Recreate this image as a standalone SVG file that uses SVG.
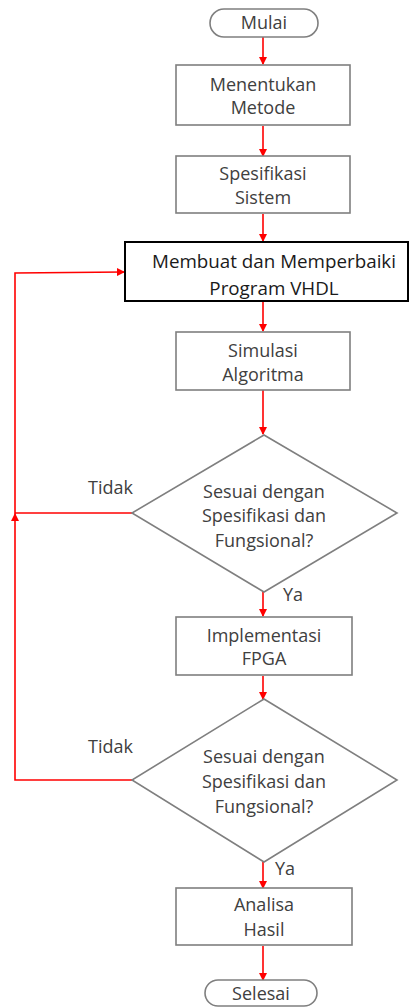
<svg xmlns="http://www.w3.org/2000/svg" width="410" height="1008" viewBox="0 0 410 1008">
<defs>
<marker id="ah" markerWidth="8" markerHeight="8" refX="7" refY="4" orient="auto" markerUnits="userSpaceOnUse">
<path d="M0,0 L8,4 L0,8 z" fill="#ff0000"/>
</marker>
<style>
.box{fill:#fff;stroke:#7f7f7f;stroke-width:1.6}
.bold{fill:#fff;stroke:#000;stroke-width:2}
.t{font-family:"Open Sans","Liberation Sans",sans-serif;font-size:18px;fill:#404040;text-anchor:middle}
.tb{font-family:"Open Sans","Liberation Sans",sans-serif;font-size:18.8px;fill:#1a1a1a;text-anchor:middle}
.l{font-family:"Open Sans","Liberation Sans",sans-serif;font-size:18px;fill:#404040}
.c{fill:none;stroke:#ff0000;stroke-width:1.6}
</style>
</defs>
<rect width="410" height="1008" fill="#fff"/>
<g id="connectors">
<line class="c" x1="263" y1="37" x2="263" y2="64" marker-end="url(#ah)"/>
<line class="c" x1="263" y1="126" x2="263" y2="156" marker-end="url(#ah)"/>
<line class="c" x1="263" y1="214" x2="263" y2="241" marker-end="url(#ah)"/>
<line class="c" x1="263" y1="302" x2="263" y2="331" marker-end="url(#ah)"/>
<line class="c" x1="263" y1="390" x2="263" y2="434" marker-end="url(#ah)"/>
<line class="c" x1="263" y1="592" x2="263" y2="616" marker-end="url(#ah)"/>
<line class="c" x1="263" y1="676" x2="263" y2="699" marker-end="url(#ah)"/>
<line class="c" x1="263" y1="862" x2="263" y2="888" marker-end="url(#ah)"/>
<line class="c" x1="263" y1="946" x2="263" y2="980" marker-end="url(#ah)"/>
<polyline class="c" points="132,513 15,513"/>
<polyline class="c" points="132,780 15,780 15,514" marker-end="url(#ah)"/>
<polyline class="c" points="15,514 15,273 124,272" marker-end="url(#ah)"/>
</g>
<g id="mulai">
<rect class="box" x="210" y="9" width="108" height="28" rx="14"/>
<text class="t" x="264" y="29">Mulai</text>
</g>
<g id="metode">
<rect class="box" x="176" y="65" width="174" height="60"/>
<text class="t" x="263" y="91">Menentukan</text>
<text class="t" x="263" y="114">Metode</text>
</g>
<g id="spesifikasi">
<rect class="box" x="176" y="156" width="174" height="57"/>
<text class="t" x="263" y="180">Spesifikasi</text>
<text class="t" x="263" y="204">Sistem</text>
</g>
<g id="program">
<rect class="bold" x="125" y="242" width="283" height="59"/>
<text class="tb" x="274" y="268">Membuat dan Memperbaiki</text>
<text class="tb" x="274" y="295">Program VHDL</text>
</g>
<g id="simulasi">
<rect class="box" x="176" y="332" width="174" height="58"/>
<text class="t" x="263" y="357">Simulasi</text>
<text class="t" x="263" y="381">Algoritma</text>
</g>
<g id="decision1">
<polygon class="box" points="264,435 397,513 264,592 132,513"/>
<text class="t" x="264" y="498">Sesuai dengan</text>
<text class="t" x="264" y="522">Spesifikasi dan</text>
<text class="t" x="264" y="547">Fungsional?</text>
<text class="l" x="88" y="494">Tidak</text>
<text class="l" x="283" y="601">Ya</text>
</g>
<g id="fpga">
<rect class="box" x="176" y="617" width="176" height="58"/>
<text class="t" x="264" y="642">Implementasi</text>
<text class="t" x="264" y="665">FPGA</text>
</g>
<g id="decision2">
<polygon class="box" points="264,699 397,780 264,862 132,780"/>
<text class="t" x="264" y="763">Sesuai dengan</text>
<text class="t" x="264" y="788">Spesifikasi dan</text>
<text class="t" x="264" y="813">Fungsional?</text>
<text class="l" x="88" y="753">Tidak</text>
<text class="l" x="275" y="875">Ya</text>
</g>
<g id="analisa">
<rect class="box" x="176" y="888" width="176" height="57"/>
<text class="t" x="264" y="911">Analisa</text>
<text class="t" x="264" y="936">Hasil</text>
</g>
<g id="selesai">
<rect class="box" x="205" y="980" width="112" height="26" rx="13"/>
<text class="t" x="261" y="1000">Selesai</text>
</g>
</svg>
